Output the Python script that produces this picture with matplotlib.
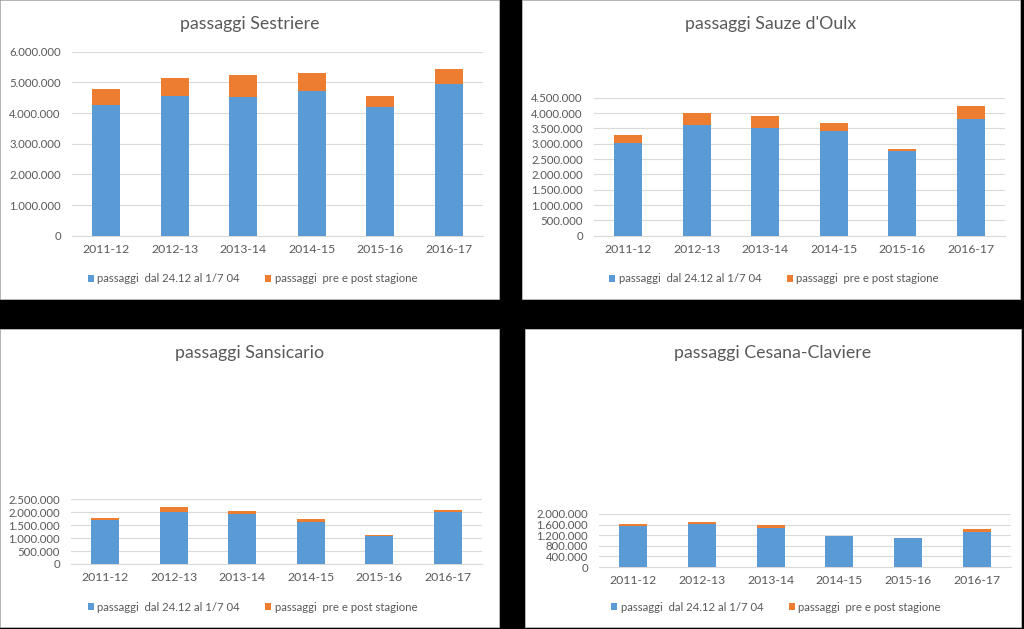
import matplotlib
matplotlib.use("Agg")
import matplotlib.pyplot as plt
from matplotlib.patches import Rectangle
from matplotlib.ticker import FuncFormatter, MultipleLocator
import numpy as np

plt.rcParams['font.family'] = ['Lato', 'DejaVu Sans']

seasons = ["2011-12", "2012-13", "2013-14", "2014-15", "2015-16", "2016-17"]
series_names = ["passaggi  dal 24.12 al 1/7 04", "passaggi  pre e post stagione"]

titles = ["passaggi Sestriere", "passaggi Sauze d'Oulx",
          "passaggi Sansicario", "passaggi Cesana-Claviere"]

# in-season (24.12 - 1/7 04) and pre/post season passages
sestriere_main = [4260000, 4550000, 4520000, 4720000, 4210000, 4950000]
sestriere_extra = [520000, 580000, 720000, 600000, 360000, 480000]

sauze_main = [3030000, 3600000, 3520000, 3410000, 2750000, 3820000]
sauze_extra = [260000, 390000, 370000, 270000, 80000, 410000]

sansicario_main = [1710000, 2010000, 1930000, 1630000, 1090000, 2010000]
sansicario_extra = [65000, 205000, 120000, 90000, 20000, 90000]

cesana_main = [1550000, 1620000, 1465000, 1170000, 1080000, 1325000]
cesana_extra = [80000, 70000, 125000, 10000, 10000, 125000]

y_max = [6000000, 4500000, 2500000, 2000000]
y_step = [1000000, 500000, 500000, 400000]

W, H = 1024, 629
BLUE = "#5B9BD5"
ORANGE = "#ED7D31"
TXT = "#595959"
GRID = "#D9D9D9"

fig = plt.figure(figsize=(W / 100, H / 100), dpi=100)
fig.patch.set_facecolor("black")

# panel rectangles (x0, y_top, x1, y_bottom) in pixels
panels = [(0, 0, 499, 299), (522, 0, 1020, 299),
          (0, 329, 499, 627), (525, 329, 1021, 627)]
# plot areas (x0, y_top(max tick), x1, y_zero)
areas = [(72, 51.7, 483, 235.7), (594, 97.7, 1005, 235.7),
         (71, 499.3, 482, 564), (599, 514, 1011, 567)]
title_y = [24, 24, 352.7, 352.7]
legend_y = [279, 279, 607.3, 607.3]

data = [(sestriere_main, sestriere_extra), (sauze_main, sauze_extra),
        (sansicario_main, sansicario_extra), (cesana_main, cesana_extra)]


def fmt(v, pos):
    return f"{int(round(v)):,}".replace(",", ".")


for i in range(4):
    px0, py0, px1, py1 = panels[i]
    fig.patches.append(Rectangle((px0 / W, 1 - py1 / H), (px1 - px0) / W, (py1 - py0) / H,
                                 transform=fig.transFigure, facecolor="white",
                                 edgecolor="#BFBFBF", linewidth=0.6, zorder=-1))
    ax0, ay0, ax1, ay1 = areas[i]
    ax = fig.add_axes([ax0 / W, 1 - ay1 / H, (ax1 - ax0) / W, (ay1 - ay0) / H])
    ax.set_zorder(2)
    ax.set_facecolor("none")
    main, extra = data[i]
    x = np.arange(len(seasons))
    b1 = ax.bar(x, main, width=0.41, color=BLUE, zorder=3, label=series_names[0])
    b2 = ax.bar(x, extra, width=0.41, bottom=main, color=ORANGE, zorder=3, label=series_names[1])
    ax.set_xlim(-0.5, len(seasons) - 0.5)
    ax.set_ylim(0, y_max[i])
    ax.yaxis.set_major_locator(MultipleLocator(y_step[i]))
    ax.yaxis.set_major_formatter(FuncFormatter(fmt))
    ax.set_xticks(x)
    ax.set_xticklabels(seasons)
    ax.grid(axis="y", color=GRID, linewidth=0.8, zorder=0)
    ax.set_axisbelow(True)
    for s in ["top", "right", "left"]:
        ax.spines[s].set_visible(False)
    ax.spines["bottom"].set_color(GRID)
    ax.spines["bottom"].set_linewidth(0.8)
    ax.tick_params(axis="both", length=0, colors=TXT)
    ax.tick_params(axis="y", pad=8, labelsize=8.2)
    ax.tick_params(axis="x", pad=6, labelsize=8.8)
    cx = (px0 + px1) / 2
    fig.text(cx / W, 1 - title_y[i] / H, titles[i], ha="center", va="center",
             fontsize=12.8, color=TXT)
    leg = fig.legend(handles=[b1, b2], loc="center", bbox_to_anchor=((cx + 3) / W, 1 - legend_y[i] / H),
                     ncol=2, frameon=False, fontsize=8.2, handlelength=0.55, handleheight=0.55,
                     handletextpad=0.3, columnspacing=2.2, borderaxespad=0)
    for t in leg.get_texts():
        t.set_color(TXT)

fig.savefig("out.png", dpi=100, facecolor=fig.get_facecolor())
